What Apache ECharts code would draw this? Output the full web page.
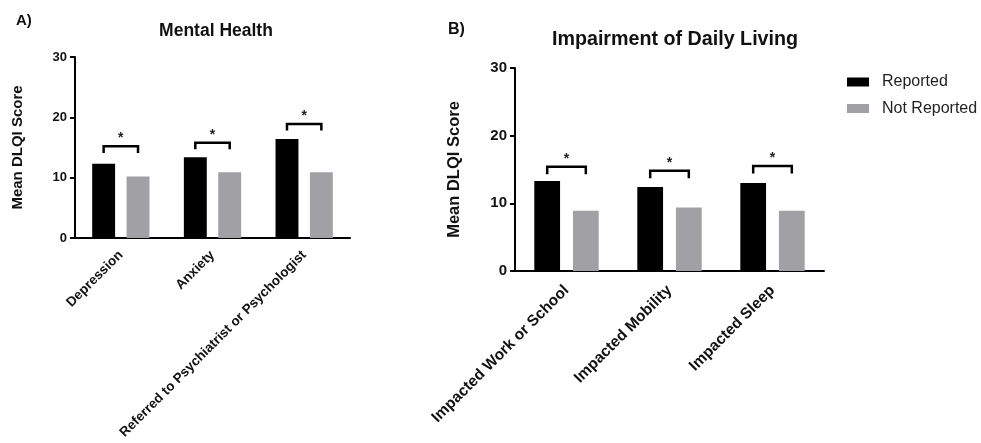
<!DOCTYPE html>
<html>
<head>
<meta charset="utf-8">
<script src="https://cdn.jsdelivr.net/npm/echarts@6/dist/echarts.min.js"></script>
<style>
  html, body { margin: 0; padding: 0; background: #fff; }
  #chart { width: 981px; height: 443px; }
</style>
</head>
<body>
<div id="chart"></div>
<script>
// panel A data
const catsA = ['Depression', 'Anxiety', 'Referred to Psychiatrist or Psychologist']
const reportedA = [12.3, 13.4, 16.4]
const notReportedA = [10.2, 10.9, 10.9]
const bracketTopA = [15.2, 15.8, 18.9]
const bracketEndA = [14.1, 14.7, 17.8]

// panel B data
const catsB = ['Impacted Work or School', 'Impacted Mobility', 'Impacted Sleep']
const reportedB = [13.3, 12.4, 13.0]
const notReportedB = [8.9, 9.4, 8.9]
const bracketTopB = [15.4, 14.8, 15.5]
const bracketEndB = [14.3, 13.7, 14.4]

const yTicks = [0, 10, 20, 30]

const FONT = "'Liberation Sans', Arial, sans-serif"
const GREY = '#a1a1a5'

const chart = echarts.init(document.getElementById('chart'))

function bracketData(tops, ends) {
  return tops.map((t, i) => [i, t, ends[i]])
}

// draws the significance bracket with a star above it
function renderBracket(params, api) {
  const idx = api.value(0)
  const top = api.coord([idx, api.value(1)])
  const end = api.coord([idx, api.value(2)])
  const band = api.size([1, 0])[0]
  const off = band * 0.1875
  const x1 = top[0] - off
  const x2 = top[0] + off
  return {
    type: 'group',
    children: [
      {
        type: 'polyline',
        shape: { points: [[x1, end[1]], [x1, top[1]], [x2, top[1]], [x2, end[1]]] },
        style: { stroke: '#000', lineWidth: 2.5, fill: null },
      },
      {
        type: 'text',
        style: {
          text: '*',
          x: top[0],
          y: top[1] - 1,
          align: 'center',
          verticalAlign: 'bottom',
          font: `bold 14px ${FONT}`,
          fill: '#222',
        },
      },
    ],
  }
}

function yAxis(gridIndex, fontSize, nameSize, nameGap) {
  return {
    gridIndex,
    type: 'value',
    min: 0,
    max: 30,
    interval: 10,
    name: 'Mean DLQI Score',
    nameLocation: 'middle',
    nameGap,
    nameTextStyle: { fontFamily: FONT, fontWeight: 'bold', fontSize: nameSize, color: '#111' },
    axisLine: { show: true, lineStyle: { color: '#000', width: 2 } },
    axisTick: { show: true, length: 5, lineStyle: { color: '#000', width: 2 } },
    axisLabel: {
      fontFamily: FONT, fontWeight: 'bold', fontSize, color: '#111', margin: 8,
      formatter: (v) => (yTicks.includes(v) ? String(v) : ''),
    },
    splitLine: { show: false },
  }
}

function xAxis(gridIndex, cats, fontSize, margin) {
  return {
    gridIndex,
    type: 'category',
    data: cats,
    axisLine: { lineStyle: { color: '#000', width: 2 } },
    axisTick: { alignWithLabel: true, length: 5, lineStyle: { color: '#000', width: 2 } },
    axisLabel: {
      rotate: 45, interval: 0, margin,
      fontFamily: FONT, fontWeight: 'bold', fontSize, color: '#111',
    },
  }
}

const option = {
  animation: false,
  backgroundColor: '#fff',
  title: [
    { text: 'A)', left: 11, top: 8, textStyle: { fontFamily: FONT, fontWeight: 'bold', fontSize: 15, color: '#111' } },
    { text: 'Mental Health', left: 211, top: 17, textAlign: 'center', textStyle: { fontFamily: FONT, fontWeight: 'bold', fontSize: 17.5, color: '#111' } },
    { text: 'B)', left: 443, top: 17, textStyle: { fontFamily: FONT, fontWeight: 'bold', fontSize: 16, color: '#111' } },
    { text: 'Impairment of Daily Living', left: 670, top: 25, textAlign: 'center', textStyle: { fontFamily: FONT, fontWeight: 'bold', fontSize: 19.7, color: '#111' } },
  ],
  legend: {
    data: ['Reported', 'Not Reported'],
    orient: 'vertical',
    left: 842,
    top: 69,
    itemWidth: 22,
    itemHeight: 9,
    itemGap: 10.5,
    icon: 'rect',
    textStyle: { fontFamily: FONT, fontSize: 16, color: '#222', padding: [0, 0, 0, 8] },
  },
  grid: [
    { left: 75, top: 57, width: 275, height: 181, outerBoundsMode: 'none', containLabel: false },
    { left: 515, top: 68, width: 309, height: 203, outerBoundsMode: 'none', containLabel: false },
  ],
  xAxis: [xAxis(0, catsA, 13.5, 15), xAxis(1, catsB, 15.5, 17)],
  yAxis: [yAxis(0, 13, 15, 50), yAxis(1, 15, 16.5, 52)],
  series: [
    { name: 'Reported', type: 'bar', xAxisIndex: 0, yAxisIndex: 0, data: reportedA, barWidth: '25%', barGap: '50%', itemStyle: { color: '#000' } },
    { name: 'Not Reported', type: 'bar', xAxisIndex: 0, yAxisIndex: 0, data: notReportedA, barWidth: '25%', barGap: '50%', itemStyle: { color: GREY } },
    { name: 'Reported', type: 'bar', xAxisIndex: 1, yAxisIndex: 1, data: reportedB, barWidth: '25%', barGap: '50%', itemStyle: { color: '#000' } },
    { name: 'Not Reported', type: 'bar', xAxisIndex: 1, yAxisIndex: 1, data: notReportedB, barWidth: '25%', barGap: '50%', itemStyle: { color: GREY } },
    { type: 'custom', xAxisIndex: 0, yAxisIndex: 0, renderItem: renderBracket, data: bracketData(bracketTopA, bracketEndA), z: 5 },
    { type: 'custom', xAxisIndex: 1, yAxisIndex: 1, renderItem: renderBracket, data: bracketData(bracketTopB, bracketEndB), z: 5 },
  ],
}

chart.setOption(option)
</script>
</body>
</html>
